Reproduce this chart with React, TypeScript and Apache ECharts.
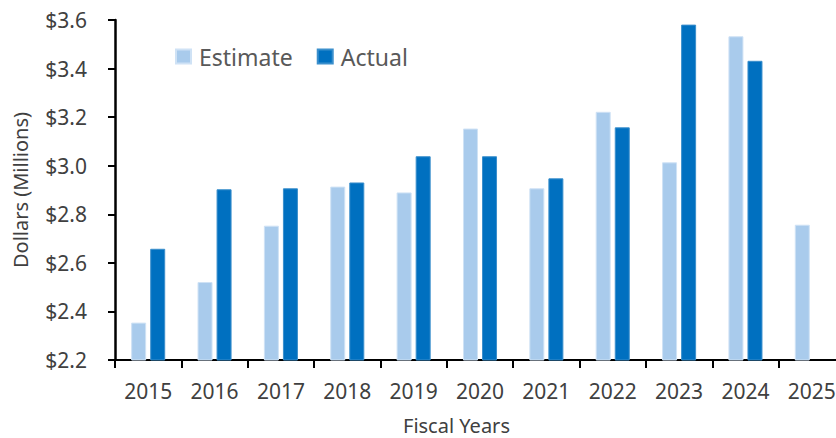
import React, { useEffect, useRef } from "react";
import * as echarts from "echarts";

const years = ["2015", "2016", "2017", "2018", "2019", "2020", "2021", "2022", "2023", "2024", "2025"];
const estimate = [2.354, 2.521, 2.753, 2.914, 2.89, 3.153, 2.907, 3.222, 3.014, 3.533, 2.757];
const actual: (number | null)[] = [2.658, 2.903, 2.907, 2.931, 3.039, 3.039, 2.948, 3.158, 3.581, 3.432, null];
const yMin = 2.2;
const yMax = 3.6;
const yStep = 0.2;

const FONT = "'Noto Sans', 'Open Sans', sans-serif";

export default function App() {
  const ref = useRef<HTMLDivElement>(null);
  useEffect(() => {
    if (!ref.current) return;
    const chart = echarts.init(ref.current, undefined, { renderer: "svg" });
    chart.setOption({
      animation: false,
      textStyle: { fontFamily: FONT },
      grid: {
        left: 115,
        top: 20,
        width: 730,
        height: 340,
        containLabel: false,
        outerBoundsMode: "none",
      },
      legend: {
        left: 170,
        top: 40,
        itemWidth: 15,
        itemHeight: 14,
        itemGap: 24,
        icon: "rect",
        textStyle: { fontSize: 23, color: "#595959", fontFamily: FONT, padding: [0, 0, 0, 3] },
        data: ["Estimate", "Actual"],
      },
      xAxis: {
        type: "category",
        data: years,
        axisLine: { lineStyle: { color: "#000", width: 2 } },
        axisTick: { show: true, length: 8, lineStyle: { color: "#000", width: 2 } },
        axisLabel: { fontSize: 21, color: "#404040", margin: 20, fontFamily: FONT },
      },
      yAxis: {
        type: "value",
        min: yMin,
        max: yMax,
        interval: yStep,
        name: "Dollars (Millions)",
        nameLocation: "middle",
        nameGap: 85,
        nameTextStyle: { fontSize: 20, color: "#404040", fontFamily: FONT },
        axisLine: { show: true, lineStyle: { color: "#000", width: 2.5 } },
        axisTick: { show: true, length: 7, lineStyle: { color: "#000", width: 2 } },
        splitLine: { show: false },
        axisLabel: {
          fontSize: 21,
          color: "#404040",
          margin: 28,
          fontFamily: FONT,
          formatter: (v: number) => "$" + v.toFixed(1),
        },
      },
      graphic: [
        {
          type: "text",
          left: 403,
          top: 415,
          style: { text: "Fiscal Years", fontSize: 20, fill: "#404040", fontFamily: FONT },
        },
      ],
      series: [
        {
          name: "Estimate",
          type: "bar",
          data: estimate,
          barWidth: 15,
          barGap: "27%",
          itemStyle: { color: "#A9CBEC", borderColor: "#CFE2F5", borderWidth: 1 },
        },
        {
          name: "Actual",
          type: "bar",
          data: actual,
          barWidth: 15,
          barGap: "27%",
          itemStyle: { color: "#0070C0", borderColor: "#3B8FCC", borderWidth: 1 },
        },
      ],
    });
    return () => chart.dispose();
  }, []);
  return (
    <div
      ref={ref}
      style={{ position: "absolute", left: 0, top: 0, width: 836, height: 438, background: "#fff" }}
    />
  );
}
